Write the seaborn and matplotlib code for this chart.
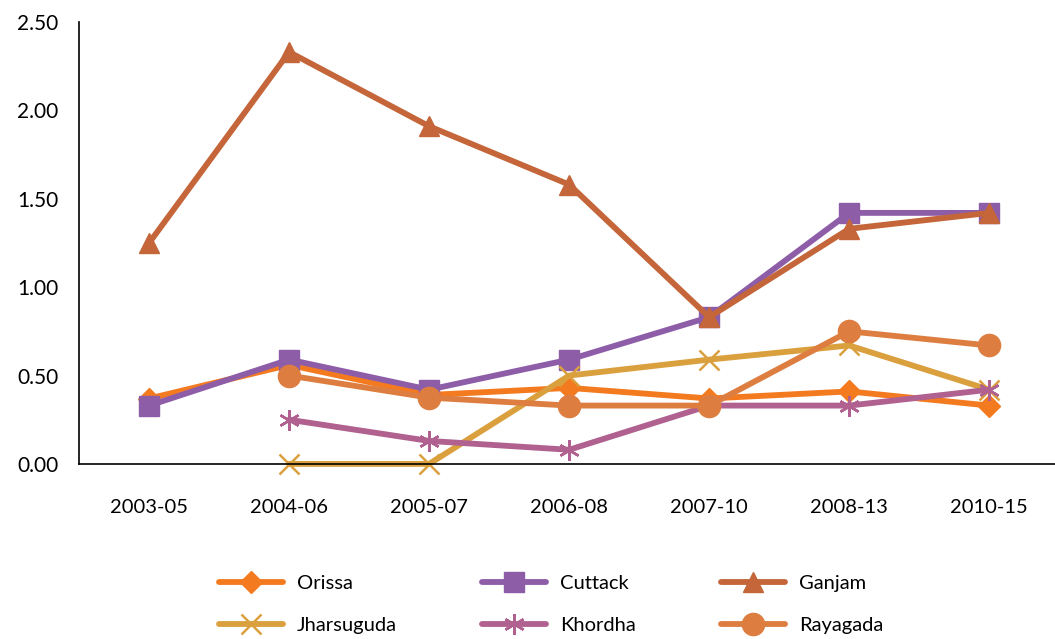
import numpy as np
import pandas as pd
import matplotlib
matplotlib.use("Agg")
import matplotlib.pyplot as plt
import seaborn as sns
from matplotlib.ticker import FixedLocator, FuncFormatter, NullFormatter

periods = ["2003-05", "2004-06", "2005-07", "2006-08", "2007-10", "2008-13", "2010-15"]
orissa = [0.37, 0.56, 0.39, 0.43, 0.37, 0.41, 0.33]
cuttack = [0.33, 0.59, 0.42, 0.59, 0.83, 1.42, 1.42]
ganjam = [1.25, 2.33, 1.91, 1.58, 0.83, 1.33, 1.42]
jharsuguda = [np.nan, 0.0, 0.0, 0.50, 0.59, 0.67, 0.42]
khordha = [np.nan, 0.25, 0.13, 0.08, 0.33, 0.33, 0.42]
rayagada = [np.nan, 0.50, 0.375, 0.33, 0.33, 0.75, 0.67]
y_ticks = [0.0, 0.5, 1.0, 1.5, 2.0, 2.5]

series = {
    "Orissa": orissa,
    "Cuttack": cuttack,
    "Ganjam": ganjam,
    "Jharsuguda": jharsuguda,
    "Khordha": khordha,
    "Rayagada": rayagada,
}
colors = {
    "Orissa": "#F47A20",
    "Cuttack": "#8E5DA8",
    "Ganjam": "#C4663A",
    "Jharsuguda": "#DBA03E",
    "Khordha": "#B0618F",
    "Rayagada": "#DD7E40",
}
markers = {
    "Orissa": ("D", 11.5),
    "Cuttack": ("s", 15),
    "Ganjam": ("^", 15),
    "Jharsuguda": ("x", 14),
    "Khordha": ((6, 2, 0), 15),
    "Rayagada": ("o", 16),
}

sns.set_style("white")
plt.rcParams["font.family"] = ["Lato", "DejaVu Sans"]
plt.rcParams["text.color"] = "black"

fig = plt.figure(figsize=(10.55, 6.39), dpi=100)
ax = fig.add_axes([0.075, 0.274, 0.925, 0.6916])

pos = np.arange(len(periods))
for name, vals in series.items():
    df = pd.DataFrame({"x": pos, "y": vals}).dropna()
    m, ms = markers[name]
    mew = 1.8 if name in ("Jharsuguda", "Khordha") else 1.0
    sns.lineplot(data=df, x="x", y="y", ax=ax, color=colors[name], lw=4.2,
                 marker=m, markersize=ms, markeredgewidth=mew,
                 markeredgecolor=colors[name], label=name, sort=False,
                 solid_capstyle="round", clip_on=False)

ax.set_xlim(-0.5, 6.47)
ax.set_ylim(0, 2.5)
ax.set_xlabel("")
ax.set_ylabel("")
ax.xaxis.set_major_locator(FixedLocator(pos))
ax.set_xticklabels(periods)
ax.xaxis.set_minor_locator(FixedLocator(np.arange(-0.5, 7.0, 1.0)))
ax.xaxis.set_minor_formatter(NullFormatter())
ax.tick_params(axis="x", which="major", length=0, pad=25, labelsize=14.5, labelcolor="black")
ax.tick_params(axis="x", which="minor", length=8, width=1.2, direction="out", color="black")
ax.set_yticks(y_ticks)
ax.yaxis.set_major_formatter(FuncFormatter(lambda v, p: f"{v:.2f}"))
ax.tick_params(axis="y", length=8, width=1.2, direction="out", color="black",
               labelsize=15, pad=7, labelcolor="black")
for s in ["top", "right"]:
    ax.spines[s].set_visible(False)
for s in ["left", "bottom"]:
    ax.spines[s].set_color("black")
    ax.spines[s].set_linewidth(1.2)

handles, labels = ax.get_legend_handles_labels()
order = [0, 3, 1, 4, 2, 5]
ax.legend([handles[i] for i in order], [labels[i] for i in order], ncol=3,
          loc="upper left", bbox_to_anchor=(0.19, 0.128),
          bbox_transform=fig.transFigure, frameon=False, fontsize=14.5,
          handlelength=3.2, columnspacing=4.2, labelspacing=1.2, handletextpad=0.7)

fig.savefig("out.png", dpi=100)
